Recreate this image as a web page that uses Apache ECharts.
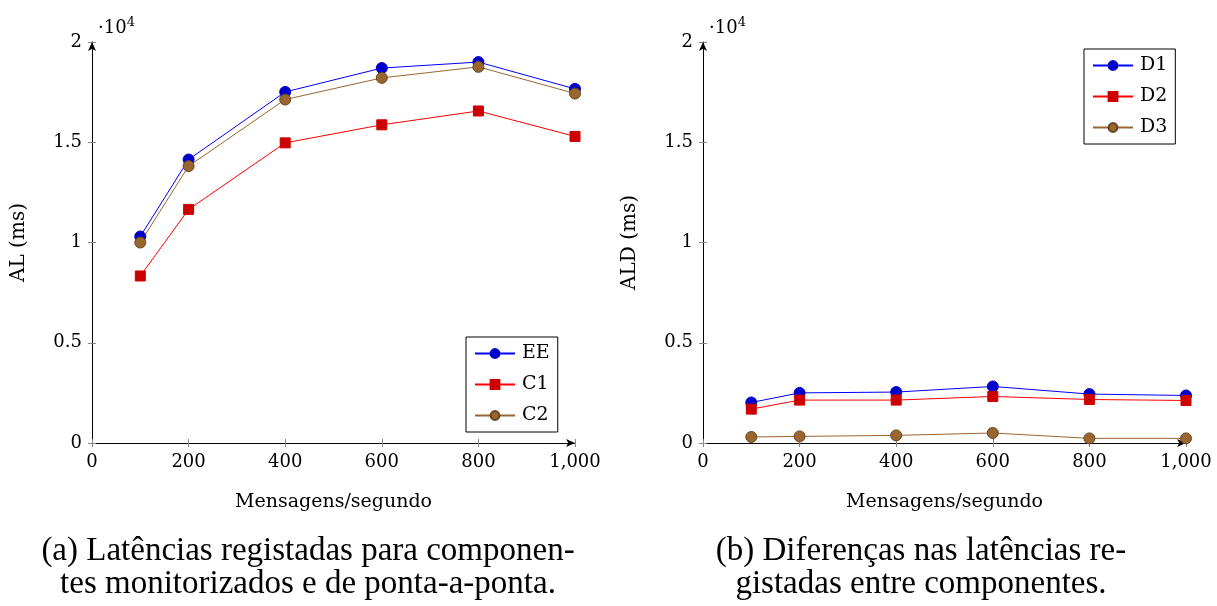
<!DOCTYPE html>
<html>
<head>
<meta charset="utf-8">
<script src="https://cdn.jsdelivr.net/npm/echarts@6/dist/echarts.min.js"></script>
<style>
  html, body { margin: 0; padding: 0; background: #fff; }
  #chart { width: 1217px; height: 606px; }
</style>
</head>
<body>
<div id="chart"></div>
<script>
// message rates (x axis)
const rates = [100, 200, 400, 600, 800, 1000];

// left panel: latencies (ms)
const eeValues = [10300, 14140, 17510, 18700, 19000, 17660];
const c1Values = [8330, 11650, 14970, 15870, 16560, 15290];
const c2Values = [10000, 13810, 17130, 18210, 18760, 17430];

// right panel: latency differences (ms)
const d1Values = [2020, 2500, 2540, 2820, 2440, 2370];
const d2Values = [1690, 2140, 2140, 2320, 2170, 2120];
const d3Values = [300, 330, 380, 500, 230, 230];

const yTicks = ["0", "0.5", "1", "1.5", "2"];
const captionA = ["(a) Latências registadas para componen-", "tes monitorizados e de ponta-a-ponta."];
const captionB = ["(b) Diferenças nas latências re-", "gistadas entre componentes."];

const serif = "DejaVu Serif";

const pairs = (vals) => rates.map((r, i) => [r, vals[i]]);

const blue = { line: "#0000ff", fill: "#0000cc" };
const red = { line: "#ff0000", fill: "#cc0000" };
const brown = { line: "#996633", fill: "#99662f" };

function makeSeries(name, vals, col, symbol, gridIdx) {
  return {
    name: name,
    type: "line",
    xAxisIndex: gridIdx * 2,
    yAxisIndex: gridIdx * 2,
    data: pairs(vals),
    symbol: symbol,
    symbolSize: symbol === "rect" ? 10 : 11,
    showAllSymbol: true,
    lineStyle: { color: col.line, width: 1 },
    itemStyle: { color: col.fill, borderColor: col === brown ? "#6b4420" : col.fill, borderWidth: 1 },
    emphasis: { disabled: true },
    z: 3,
  };
}

function xAxes(gridIdx) {
  const base = {
    gridIndex: gridIdx,
    type: "value",
    min: 0,
    max: 1000,
    interval: 200,
    splitLine: { show: false },
  };
  return [
    Object.assign({}, base, {
      name: "Mensagens/segundo",
      nameLocation: "middle",
      nameGap: 50,
      nameTextStyle: { fontFamily: serif, fontSize: 19, color: "#000" },
      axisLine: { show: true, lineStyle: { color: "#000", width: 1 }, symbol: ["none", "arrow"], symbolSize: [6, 9] },
      axisTick: { show: true, length: 4, lineStyle: { color: "#888" } },
      axisLabel: {
        fontFamily: serif,
        fontSize: 18,
        color: "#000",
        margin: 10,
        formatter: (v) => v.toLocaleString("en-US"),
      },
    }),
    Object.assign({}, base, {
      position: "bottom",
      axisLine: { show: false },
      axisTick: { show: true, inside: true, length: 4, lineStyle: { color: "#888" } },
      axisLabel: { show: false },
    }),
  ];
}

function yAxes(gridIdx, name) {
  const base = {
    gridIndex: gridIdx,
    type: "value",
    min: 0,
    max: 20000,
    interval: 5000,
    splitLine: { show: false },
  };
  return [
    Object.assign({}, base, {
      name: name,
      nameLocation: "middle",
      nameGap: 63,
      nameTextStyle: { fontFamily: serif, fontSize: 20, color: "#000" },
      axisLine: { show: true, lineStyle: { color: "#000", width: 1 }, symbol: ["none", "arrow"], symbolSize: [6, 9] },
      axisTick: { show: true, length: 4, lineStyle: { color: "#888" } },
      axisLabel: {
        fontFamily: serif,
        fontSize: 18,
        color: "#000",
        margin: 10,
        formatter: (v) => yTicks[v / 5000],
      },
    }),
    Object.assign({}, base, {
      position: "left",
      axisLine: { show: false },
      axisTick: { show: true, inside: true, length: 4, lineStyle: { color: "#888" } },
      axisLabel: { show: false },
    }),
  ];
}

function legend(names, left, top) {
  return {
    data: names,
    orient: "vertical",
    left: left,
    top: top,
    padding: [7, 8, 7, 8],
    itemGap: 12,
    itemWidth: 40,
    itemHeight: 11,
    borderColor: "#000",
    borderWidth: 1,
    borderRadius: 0,
    backgroundColor: "#fff",
    selectedMode: false,
    textStyle: { fontFamily: serif, fontSize: 19, color: "#000", padding: [0, 0, 0, 2] },
  };
}

function exponent(x) {
  return {
    type: "text",
    left: x,
    top: 16,
    style: {
      text: "{a|·10}{b|4}",
      rich: {
        a: { fontFamily: serif, fontSize: 18, fill: "#000", verticalAlign: "bottom" },
        b: { fontFamily: serif, fontSize: 13, fill: "#000", verticalAlign: "top", padding: [0, 0, 8, 0] },
      },
    },
  };
}

function caption(lines, cx) {
  return lines.map((t, i) => ({
    type: "text",
    x: cx,
    y: 551 + i * 33,
    style: {
      text: t,
      fontFamily: "serif",
      fontSize: 33,
      fill: "#000",
      textAlign: "center",
      textVerticalAlign: "middle",
    },
  }));
}

const chart = echarts.init(document.getElementById("chart"));
chart.setOption({
  animation: false,
  backgroundColor: "#fff",
  grid: [
    { left: 92, right: 642, top: 42, bottom: 163 },
    { left: 703, right: 31, top: 42, bottom: 163 },
  ],
  xAxis: xAxes(0).concat(xAxes(1)),
  yAxis: yAxes(0, "AL (ms)").concat(yAxes(1, "ALD (ms)")),
  legend: [
    legend(["EE", "C1", "C2"], 466, 337),
    legend(["D1", "D2", "D3"], 1084, 49),
  ],
  series: [
    makeSeries("EE", eeValues, blue, "circle", 0),
    makeSeries("C1", c1Values, red, "rect", 0),
    makeSeries("C2", c2Values, brown, "circle", 0),
    makeSeries("D1", d1Values, blue, "circle", 1),
    makeSeries("D2", d2Values, red, "rect", 1),
    makeSeries("D3", d3Values, brown, "circle", 1),
  ],
  graphic: [exponent(98), exponent(709)].concat(caption(captionA, 308), caption(captionB, 921)),
});
</script>
</body>
</html>
